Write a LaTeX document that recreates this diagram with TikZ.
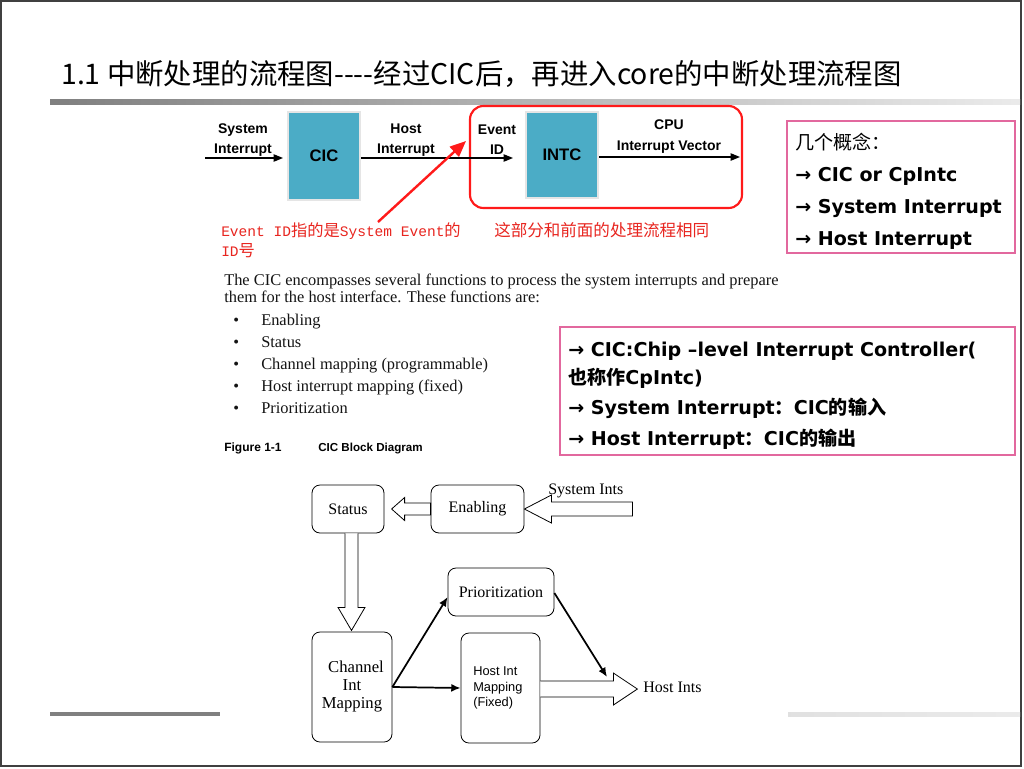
\documentclass[tikz,border=0pt]{standalone}
\usepackage{fontspec}
\setmainfont{Liberation Serif}
\newfontfamily\cjk{Noto Sans CJK SC}
\newfontfamily\lsans{Liberation Sans}
\newfontfamily\lmono{Liberation Mono}
\newfontfamily\dvs{DejaVu Sans}
\usetikzlibrary{arrows.meta,calc}
\definecolor{tealbox}{HTML}{4BACC6}
\definecolor{pinkb}{HTML}{E2689E}
\definecolor{redl}{HTML}{FF1A1A}
\definecolor{redt}{HTML}{E8251F}
\newcommand\zh[1]{{\cjk #1}}
\begin{document}
\begin{tikzpicture}[x=0.75pt,y=-0.75pt,
  lbl/.style={font=\lsans\bfseries\fontsize{10.5}{12}\selectfont, inner sep=0, anchor=base},
  tbox/.style={fill=tealbox, draw=gray!20, line width=1.5pt, minimum width=54pt, minimum height=66pt, font=\lsans\bfseries\fontsize{12.5}{14}\selectfont},
  thin arr/.style={line width=0.9pt, -{Triangle[length=7pt,width=5.5pt]}},
  redtxt/.style={text=redt, inner sep=0, anchor=base west},
  para/.style={font=\fontsize{12.3}{14}\selectfont, inner sep=0, anchor=base west, text=black!92},
  info/.style={font=\dvs\bfseries\fontsize{14.3}{16}\selectfont, inner sep=0, anchor=base west},
  bx/.style={draw, line width=0.6pt, rounded corners=6pt, font=\fontsize{12}{14}\selectfont, inner sep=0},
  hollow/.style={draw, line width=0.6pt, fill=white},
  blk/.style={line width=1.3pt, -{Latex[length=7pt,width=6pt]}}
]
\useasboundingbox (0,0) rectangle (1024,768);
\fill[white] (0,0) rectangle (1024,768);
\draw[black!75, line width=1.5pt] (1,1) rectangle (1021,766);

% title
\node[inner sep=0, anchor=base west, font=\cjk\fontsize{21.3}{24}\selectfont] (title) at (61,84) {1.1 中断处理的流程图----经过CIC后，再进入core的中断处理流程图};
\shade[left color=black!50, right color=black!8] (50,99) rectangle (1020,104);
\fill[black!50] (50,712) rectangle (220,716);
\shade[left color=black!12, right color=black!8] (788,712) rectangle (1020,716);

% top diagram
\node[tbox] (cic) at (324,156) {CIC};
\node[tbox, minimum height=64.5pt] (intc) at (562,155) {INTC};
\draw[redl, line width=1.6pt, rounded corners=10pt] (470,106) rectangle (742,208);

\coordinate (sin) at (205,158);
\coordinate (cpuend) at (740,157);
\draw[thin arr] (sin) -- ($(cic.west|-sin)+(-4,0)$);
\draw[thin arr] (cic.east|-sin) -- ($(intc.west|-sin)+(-12,0)$);
\draw[thin arr] (intc.east|-cpuend) -- (cpuend);

\node[lbl] (l1a) at (243,133) {System};
\node[lbl] (l1b) at (243,153) {Interrupt};
\node[lbl] (l2a) at (406,133) {Host};
\node[lbl] (l2b) at (406,153) {Interrupt};
\node[lbl] (l3a) at (497,134) {Event};
\node[lbl] (l3b) at (497,154) {ID};
\node[lbl] (l4a) at (669,129) {CPU};
\node[lbl] (l4b) at (669,150) {Interrupt Vector};

\coordinate (ra) at (378,222);
\coordinate (rb) at (466,141);
\draw[redl, line width=1.8pt, -{Triangle[length=12pt,width=10pt]}] (ra) -- (rb);

\node[redtxt] (rt1) at (221,236) {\lmono\fontsize{10.9}{12}\selectfont Event ID{\cjk\fontsize{12.2}{14}\selectfont 指的是}System Event{\cjk\fontsize{12.2}{14}\selectfont 的}};
\node[redtxt] (rt2) at (221,256) {\lmono\fontsize{10.9}{12}\selectfont ID{\cjk\fontsize{12.2}{14}\selectfont 号}};
\node[redtxt, font=\cjk\fontsize{12.4}{14}\selectfont] (rt3) at (494,236) {这部分和前面的处理流程相同};

% info box 1
\draw[pinkb, line width=1pt] (787,121) rectangle (1015,253);
\node[info] (i1) at (795,149) {\zh{\mdseries 几个概念：}};
\node[info] (i2) at (795,181) {→ CIC or CpIntc};
\node[info] (i3) at (795,213) {→ System Interrupt};
\node[info] (i4) at (795,245) {→ Host Interrupt};

% paragraph
\node[para] (p1) at (224,285) {The CIC encompasses several functions to process the system interrupts and prepare};
\node[para] (p2) at (224,302) {them for the host interface. These functions are:};
\foreach \t/\yy [count=\i] in {Enabling/325, Status/347, Channel mapping (programmable)/369, Host interrupt mapping (fixed)/391, Prioritization/413}{
  \node[para] (b\i) at (233,\yy) {•};
  \node[para] (t\i) at (261,\yy) {\t};
}
\node[inner sep=0, anchor=base west, font=\lsans\bfseries\fontsize{9}{10}\selectfont] (fig) at (224,451) {Figure 1-1};
\node[inner sep=0, anchor=base west, font=\lsans\bfseries\fontsize{8.7}{10}\selectfont] (figt) at (318,451) {CIC Block Diagram};

% info box 2
\draw[pinkb, line width=1pt] (560,327) rectangle (1015,455);
\node[info] (j1) at (568,356) {→ CIC:Chip –level Interrupt Controller(};
\node[info] (j2) at (568,384) {\zh{也称作}CpIntc)};
\node[info] (j3) at (568,414) {→ System Interrupt\zh{：}CIC\zh{的输入}};
\node[info] (j4) at (568,445) {→ Host Interrupt\zh{：}CIC\zh{的输出}};

% bottom block diagram
\node[bx, minimum width=54pt, minimum height=36pt] (status) at (348,509) {Status};
\node[bx, minimum width=69.75pt, minimum height=36pt] (enab) at (477.5,509) {\raisebox{-2pt}{Enabling}};
\node[bx, minimum width=79.5pt, minimum height=36pt] (prio) at (501,592) {Prioritization};
\node[bx, minimum width=60pt, minimum height=82.5pt, align=center, font=\fontsize{12.5}{13.5}\selectfont] (chan) at (352,687) {\hspace*{6pt}Channel\\ Int\\ Mapping};
\node[bx, minimum width=59.25pt, minimum height=82.5pt, align=left, font=\lsans\fontsize{9.6}{11.6}\selectfont] (hmap) at (500.5,688) {\hspace*{-4pt}Host Int\\ \hspace*{-4pt}Mapping\\ \hspace*{-4pt}(Fixed)};

\draw[hollow] (enab.west) ++(0,-6) -- ++(-26,0) -- ++(0,-5.5) -- ++(-13,11.5) -- ++(13,11.5) -- ++(0,-5.5) -- ++(26,0) -- cycle;
\draw[hollow] (enab.east) ++(108,-7) -- ++(-81,0) -- ++(0,-7) -- ++(-27,14) -- ++(27,14) -- ++(0,-7) -- ++(81,0) -- cycle;
\draw[hollow] (status.south) ++(-3,0) -- ++(0,74) -- ++(-7,0) -- ++(13.5,23) -- ++(13.5,-23) -- ++(-7,0) -- ++(0,-74);
\draw[hollow] (hmap.east) ++(0,-7) -- ++(73,0) -- ++(0,-8) -- ++(24,16) -- ++(-24,16) -- ++(0,-8) -- ++(-73,0);

\node[inner sep=0, anchor=base west, font=\fontsize{12}{14}\selectfont] (sysints) at (548,494) {System Ints};
\node[inner sep=0, anchor=base west, font=\fontsize{12}{14}\selectfont] (hostints) at (643,692) {Host Ints};

\coordinate (hiend) at (607,677);
\draw[blk] (chan.east) -- ($(prio.west)+(0,5)$);
\draw[blk] (chan.east) -- (hmap.west);
\draw[blk] ($(prio.east)+(0,1)$) -- (hiend);
\end{tikzpicture}
\end{document}
